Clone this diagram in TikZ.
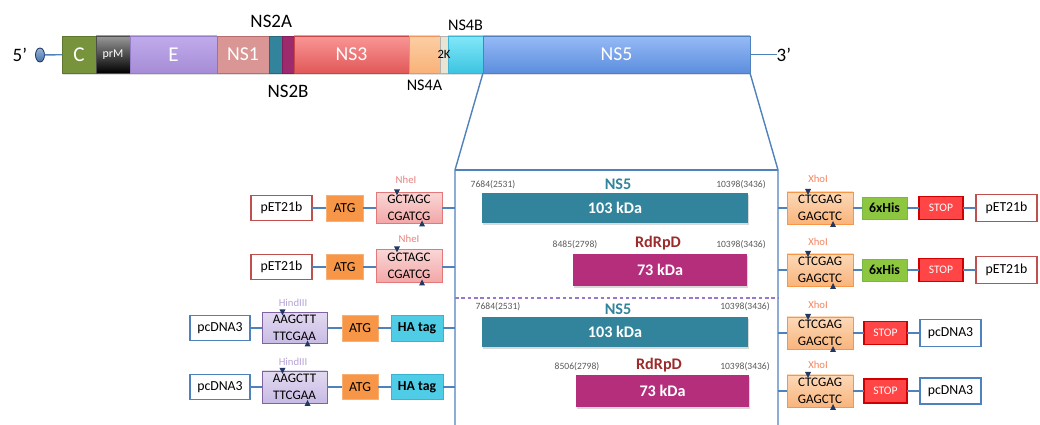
\documentclass[tikz,border=0pt]{standalone}
\usepackage{fontspec}
\setmainfont{Carlito}
\usetikzlibrary{positioning,shapes.geometric,shadows}

\definecolor{linkblue}{HTML}{4F81BD}
\definecolor{vecred}{HTML}{C0504D}
\definecolor{ns5teal}{HTML}{31849B}
\definecolor{rdrpmag}{HTML}{B52E7C}
\definecolor{rdrptxt}{HTML}{9E2B2B}
\definecolor{nhecol}{HTML}{E5827D}
\definecolor{hindcol}{HTML}{B4A3D6}
\definecolor{xhocol}{HTML}{F4845F}
\definecolor{cutcol}{HTML}{1F3864}
\definecolor{atgfill}{HTML}{F79646}
\definecolor{atgline}{HTML}{F9B074}

\tikzset{
  wh/.style 2 args={minimum width=#1*0.025cm, minimum height=#2*0.025cm},
  seg/.style={wh={34}{37}, line width=0.4pt, text=white, font=\fontsize{14}{16}\selectfont,
    drop shadow={opacity=0.25, shadow xshift=0.8pt, shadow yshift=-1.2pt}},
  lab/.style={font=\fontsize{13.5}{15}\selectfont},
  link/.style={draw=linkblue, line width=1.2pt},
  vecred/.style={draw=vecred, line width=1.2pt, fill=white, font=\fontsize{9.8}{11}\selectfont},
  vecblue/.style={draw=linkblue, line width=1.2pt, fill=white, font=\fontsize{9.8}{11}\selectfont},
  atg/.style={fill=atgfill, draw=atgline, line width=0.6pt, font=\fontsize{9.8}{11}\selectfont},
  nhe/.style={top color={rgb,255:red,250;green,214;blue,214}, bottom color={rgb,255:red,242;green,166;blue,166}, draw={rgb,255:red,226;green,120;blue,120}, line width=0.6pt, align=center, font=\fontsize{9.3}{12.5}\selectfont},
  hind/.style={top color={rgb,255:red,226;green,218;blue,240}, bottom color={rgb,255:red,200;green,186;blue,228}, draw={rgb,255:red,128;green,100;blue,162}, line width=0.6pt, align=center, font=\fontsize{9.3}{12.5}\selectfont},
  xho/.style={top color={rgb,255:red,252;green,217;blue,184}, bottom color={rgb,255:red,249;green,180;blue,123}, draw=atgfill, line width=0.6pt, align=center, font=\fontsize{9.3}{12.5}\selectfont},
  hatag/.style={fill={rgb,255:red,79;green,205;blue,230}, draw={rgb,255:red,59;green,180;blue,207}, line width=0.6pt, font=\bfseries\fontsize{9.8}{11}\selectfont},
  his/.style={fill={rgb,255:red,141;green,198;blue,63}, draw={rgb,255:red,122;green,182;blue,72}, line width=0.6pt, font=\bfseries\fontsize{9.8}{11}\selectfont},
  stopbox/.style={fill={rgb,255:red,255;green,69;blue,69}, draw={rgb,255:red,208;green,0;blue,0}, line width=1pt, text=white, font=\fontsize{8.2}{10}\selectfont},
  band/.style={text=white, font=\bfseries\fontsize{11.5}{13}\selectfont,
    drop shadow={opacity=0.3, shadow xshift=0.8pt, shadow yshift=-1.2pt}},
  prot/.style={font=\bfseries\fontsize{11.5}{13}\selectfont},
  num/.style={text=black!65, font=\fontsize{6.8}{8}\selectfont},
  site/.style={font=\fontsize{7.6}{9}\selectfont}
}

% two cut marks on a site box (upper and lower strand)
\newcommand{\cutmarks}[1]{%
  \fill[cutcol] ([xshift=-0.375cm,yshift=0.075cm]#1.north) -- ++(0.15cm,0) -- ++(-0.075cm,-0.15cm) -- cycle;
  \fill[cutcol] ([xshift=0.25cm,yshift=-0.075cm]#1.south) -- ++(0.15cm,0) -- ++(-0.075cm,0.15cm) -- cycle;}

\begin{document}
\begin{tikzpicture}[x=0.025cm, y=-0.025cm, every node/.style={inner sep=0pt, outer sep=0pt}]

\useasboundingbox (0,0) rectangle (1040,425);

% genome
\node[ellipse, wh={9}{14}, top color=linkblue!60, bottom color=linkblue!90!black, draw=cutcol, line width=0.6pt] (cap) at (40,55) {};
\node[lab, left=6pt of cap] (five) {5'};
\node[seg, fill={rgb,255:red,119;green,147;blue,60}, draw={rgb,255:red,95;green,118;blue,48}] (c) at (79,54.5) {\fontsize{15}{17}\selectfont C};
\node[seg, right=0pt of c, top color=black!40, bottom color=black, draw=black!70, font=\fontsize{8.5}{10}\selectfont] (prm) {prM};
\node[seg, right=0pt of prm, wh={87}{37}, top color={rgb,255:red,192;green,171;blue,236}, bottom color={rgb,255:red,166;green,140;blue,214}, draw={rgb,255:red,150;green,125;blue,200}] (e) {\fontsize{15}{17}\selectfont E};
\node[seg, right=0pt of e, wh={52}{37}, fill={rgb,255:red,217;green,150;blue,148}, draw={rgb,255:red,185;green,108;blue,108}] (ns1) {NS1};
\node[seg, right=0pt of ns1, wh={13}{37}, fill=ns5teal, draw=ns5teal!80!black] (ns2a) {};
\node[seg, right=0pt of ns2a, wh={12}{37}, fill={rgb,255:red,158;green,42;blue,110}, draw={rgb,255:red,130;green,30;blue,90}] (ns2b) {};
\node[seg, right=0pt of ns2b, wh={115}{37}, top color={rgb,255:red,249;green,150;blue,150}, bottom color={rgb,255:red,226;green,88;blue,88}, draw={rgb,255:red,200;green,70;blue,70}] (ns3) {NS3};
\node[seg, right=0pt of ns3, wh={31}{37}, top color={rgb,255:red,252;green,206;blue,164}, bottom color={rgb,255:red,249;green,178;blue,120}, draw={rgb,255:red,240;green,150;blue,90}] (ns4a) {};
\node[seg, right=0pt of ns4a, wh={8}{37}, fill={rgb,255:red,232;green,228;blue,210}, draw=black!30] (twok) {};
\node[seg, right=0pt of twok, wh={35}{37}, top color={rgb,255:red,130;green,232;blue,248}, bottom color={rgb,255:red,60;green,196;blue,226}, draw={rgb,255:red,60;green,180;blue,210}] (ns4b) {};
\node[seg, right=0pt of ns4b, wh={267}{37}, top color={rgb,255:red,150;green,186;blue,246}, bottom color={rgb,255:red,92;green,142;blue,222}, draw=linkblue] (ns5) {NS5};
\node[font=\fontsize{9}{10}\selectfont] at (twok) {2K};
\node[lab, right=19pt of ns5] (three) {3'};

\node[lab, above=6pt of ns2a, xshift=-3pt] {NS2A};
\node[lab, below=9pt of ns2b] {NS2B};
\node[lab, below=5pt of ns4a, font=\fontsize{11.5}{13}\selectfont] {NS4A};
\node[lab, above=3.5pt of ns4b, font=\fontsize{11.5}{13}\selectfont] {NS4B};

\draw[link, line width=1pt] (cap) -- (c);
\draw[link, line width=1pt] (ns5) -- (three);

% zoom frame
\coordinate (tl) at (455,170);
\coordinate (tr) at (778,170);
\coordinate (bl) at (455,428);
\coordinate (br) at (778,428);
\coordinate (dl) at (455,298);
\coordinate (dr) at (778,298);
\draw[link, line width=1pt, line join=round] (ns5.south west) -- (tl) -- (bl);
\draw[link, line width=1pt, line join=round] (ns5.south east) -- (tr) -- (br);
\draw[link, line width=1pt] (tl) -- (tr);
\draw[draw={rgb,255:red,150;green,120;blue,204}, line width=0.8pt, dash pattern=on 2.5pt off 2pt] (dl) -- (dr);

% row 1
\node[vecred, wh={61}{25}] (p1) at (281.5,208) {pET21b};
\node[atg, wh={37}{26}] (a1) at (344.5,208) {ATG};
\node[nhe, wh={66}{31}] (n1) at (409,208) {GCTAGC\\CGATCG};
\coordinate (l1) at (455,208);
\node[band, fill=ns5teal, wh={266}{30}] (b1) at (615,208) {103 kDa};
\coordinate (r1) at (778,208);
\node[xho, wh={66}{32}] (x1) at (820,208) {CTCGAG\\GAGCTC};
\node[his, wh={45}{22}] (h1) at (884.5,208) {6xHis};
\node[stopbox, wh={44}{23}] (s1) at (941,208) {STOP};
\node[vecred, wh={61}{27}] (q1) at (1006.5,208) {pET21b};
\node[site, text=nhecol] at (406,180) {NheI};
\node[prot, text=ns5teal] at (618,184) {NS5};
\node[num] at (493,185) {7684(2531)};
\node[num] at (741,185) {10398(3436)};
\node[site, text=xhocol] at (818,179) {XhoI};
\draw[link] (p1) -- (a1) -- (n1) -- (l1);
\draw[link] (r1) -- (x1) -- (h1) -- (s1) -- (q1);
\cutmarks{n1}
\cutmarks{x1}

% row 2
\node[vecred, wh={61}{25}] (p2) at (281.5,267) {pET21b};
\node[atg, wh={37}{25}] (a2) at (344.5,267) {ATG};
\node[nhe, wh={66}{33}] (n2) at (409,266) {GCTAGC\\CGATCG};
\coordinate (l2) at (455,267);
\node[band, fill=rdrpmag, wh={174}{32}] (b2) at (660,270) {73 kDa};
\coordinate (r2) at (778,270);
\node[xho, wh={66}{32}] (x2) at (820,270) {CTCGAG\\GAGCTC};
\node[his, wh={45}{22}] (h2) at (884.5,270) {6xHis};
\node[stopbox, wh={44}{23}] (s2) at (941,270) {STOP};
\node[vecred, wh={61}{27}] (q2) at (1006.5,270) {pET21b};
\node[site, text=nhecol] at (409,239) {NheI};
\node[prot, text=rdrptxt] at (658,243) {RdRpD};
\node[num] at (575,245) {8485(2798)};
\node[num] at (741,245) {10398(3436)};
\node[site, text=xhocol] at (818,242) {XhoI};
\draw[link] (p2) -- (a2) -- (n2.west |- l2);
\draw[link] (n2.east |- l2) -- (l2);
\draw[link] (r2) -- (x2) -- (h2) -- (s2) -- (q2);
\cutmarks{n2}
\cutmarks{x2}

% row 3
\node[vecblue, wh={60}{25}] (d3) at (220,328) {pcDNA3};
\node[hind, wh={65}{31}] (k3) at (294.5,328) {AAGCTT\\TTCGAA};
\node[atg, wh={36}{26}] (a3) at (360,328) {ATG};
\node[hatag, wh={52}{26}] (t3) at (417,328) {HA tag};
\coordinate (l3) at (455,328);
\node[band, fill=ns5teal, wh={266}{30}] (b3) at (615,332) {103 kDa};
\coordinate (r3) at (778,333);
\node[xho, wh={66}{32}] (x3) at (820,333) {CTCGAG\\GAGCTC};
\node[stopbox, wh={43}{23}] (s3) at (885.5,333) {STOP};
\node[vecblue, wh={61}{27}] (e3) at (950.5,333) {pcDNA3};
\node[site, text=hindcol] at (293,303) {HindIII};
\node[prot, text=ns5teal] at (618,309) {NS5};
\node[num] at (498,307) {7684(2531)};
\node[num] at (745,307) {10398(3436)};
\node[site, text=xhocol] at (818,305) {XhoI};
\draw[link] (d3) -- (k3) -- (a3) -- (t3) -- (l3);
\draw[link] (r3) -- (x3) -- (s3) -- (e3);
\cutmarks{k3}
\cutmarks{x3}

% row 4
\node[vecblue, wh={60}{25}] (d4) at (220,387) {pcDNA3};
\node[hind, wh={65}{32}] (k4) at (294.5,387) {AAGCTT\\TTCGAA};
\node[atg, wh={36}{25}] (a4) at (360,387) {ATG};
\node[hatag, wh={52}{25}] (t4) at (417,387) {HA tag};
\coordinate (l4) at (455,387);
\node[band, fill=rdrpmag, wh={173}{32}] (b4) at (662.5,391) {73 kDa};
\coordinate (r4) at (778,391);
\node[xho, wh={66}{32}] (x4) at (820,391) {CTCGAG\\GAGCTC};
\node[stopbox, wh={43}{24}] (s4) at (885.5,391) {STOP};
\node[vecblue, wh={61}{26}] (e4) at (950.5,391) {pcDNA3};
\node[site, text=hindcol] at (293,362) {HindIII};
\node[prot, text=rdrptxt] at (659,365) {RdRpD};
\node[num] at (577,367) {8506(2798)};
\node[num] at (745,367) {10398(3436)};
\node[site, text=xhocol] at (818,365) {XhoI};
\draw[link] (d4) -- (k4) -- (a4) -- (t4) -- (l4);
\draw[link] (r4) -- (x4) -- (s4) -- (e4);
\cutmarks{k4}
\cutmarks{x4}

\end{tikzpicture}
\end{document}
